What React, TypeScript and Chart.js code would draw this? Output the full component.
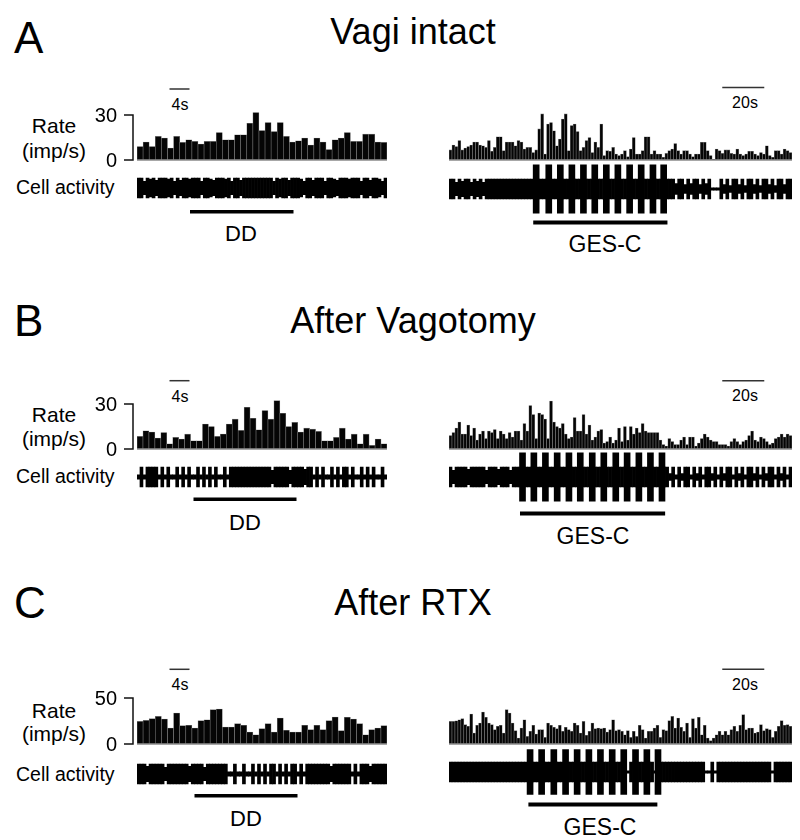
import React, { useEffect, useRef } from "react";
import { Chart, registerables } from "chart.js";

Chart.register(...registerables);

const FONT = "'Liberation Sans', Arial, Helvetica, sans-serif";

// ---------------- text content ----------------
const PANEL_LETTERS = ["A", "B", "C"];
const PANEL_TITLES = ["Vagi intact", "After Vagotomy", "After RTX"];
const RATE_LABEL = "Rate";
const RATE_UNIT = "(imp/s)";
const TRACE_LABEL = "Cell activity";
const LEFT_STIM_LABEL = "DD";
const RIGHT_STIM_LABEL = "GES-C";
const LEFT_SCALE_LABEL = "4s";
const RIGHT_SCALE_LABEL = "20s";
const LEFT_SCALE_S = 4;
const RIGHT_SCALE_S = 20;
const LEFT_SCALE_START_S = 6.5;
const RIGHT_SCALE_START_S = 130.1;

// time spans of the recordings shown (s)
const LEFT_DURATION_S = 50;
const RIGHT_DURATION_S = 163.3;

// y tick labels of the rate histograms
const RATE_TICKS_A = [0, 30];
const RATE_TICKS_B = [0, 30];
const RATE_TICKS_C = [0, 50];

// ---------------- rate histograms (imp/s) ----------------
const A_DD_RATE = [9, 12, 9, 15.7, 14.6, 8, 15.7, 11.7, 13.5, 12.4, 10.6, 12.4, 12.4, 18.3, 13.5, 13.5, 16.8, 16.8, 24.5, 31.6, 19.6, 25, 19, 25, 15.7, 12, 12.8, 14.6, 10, 14.6, 12, 7, 13.5, 14.6, 18.3, 12.4, 12.4, 17.2, 17.2, 12, 11.7];
const B_DD_RATE = [8.4, 12.1, 11.3, 7.3, 11, 3.5, 7.7, 6.6, 9.9, 5.5, 5.5, 16.6, 15, 8.4, 10, 16.6, 19.9, 12.4, 27.8, 20.5, 12.8, 25.6, 19.9, 32.2, 23.8, 15, 17.7, 11.3, 13.9, 13.2, 11.7, 5.5, 5.5, 7.7, 13.9, 6.6, 9.9, 3.5, 9.9, 2.4, 6.6, 3.5];
const C_DD_RATE = [24.6, 25.7, 27.5, 30, 27.2, 17.4, 33.7, 19.9, 20.3, 17.4, 25.4, 26.4, 37.3, 38, 18.5, 18.5, 22.1, 20.3, 13, 10.1, 16.7, 22.1, 13, 28.3, 14.9, 13, 13, 20.3, 15.6, 20.3, 15.6, 25.4, 29.3, 14.5, 29, 27.2, 22.1, 10.1, 15.6, 17.4, 19.9];

const A_GES_RATE = [6.7, 10, 9, 13, 6.7, 8, 9, 10, 12, 12, 10, 9.5, 8.4, 13, 5.8, 8.4, 15.5, 15.5, 6.2, 12, 12, 12, 9.5, 13, 12, 7.3, 8.4, 8.4, 5, 6.7, 20.7, 30.7, 4, 24, 25, 19.5, 9.5, 14, 27.3, 30.7, 6.2, 23, 24, 19, 6.2, 8.4, 13, 15, 5, 12, 8.4, 24, 3, 6.2, 5.8, 8.4, 4,
  3, 4, 6.2, 2.2, 7.3, 15, 4, 4, 6.2, 15.5, 15.5, 4, 6.2, 4, 4, 1.8, 4.4, 6.2, 7.3, 11, 6.2, 4, 6.2, 6.2, 4, 2.2, 4, 4, 11.8, 11.8, 6.2, 3, 0.5, 7.3, 6.2, 4.4, 6.7, 6.7, 4.4, 4, 7.3, 4, 3, 4, 5.8, 5.8, 4, 3, 5, 4, 9.5, 3, 1.8, 6.2, 6.2, 4, 7.3, 6.2, 5];
const B_GES_RATE = [9, 11, 14, 18, 10, 10, 16, 9, 14, 6, 10, 12, 7, 12, 11, 13, 7, 12, 10, 7, 11, 8, 12, 12, 6, 17, 12, 29, 23, 7, 24, 23, 20, 7, 32, 18, 15, 14, 17, 10, 7, 8, 21, 12, 12, 23, 10, 16, 6, 8, 12, 13, 4, 5, 8, 4, 6, 14,
  5, 15, 6, 15, 10, 14, 11, 17, 12, 11, 11, 11, 11, 6, 3, 2, 7, 5, 3, 3, 6, 8, 3, 8, 8, 2, 4, 7, 10, 8, 6, 5, 5, 3, 3, 3, 2, 5, 7, 5, 3, 5, 6, 9, 12, 6, 5, 8, 7, 5, 3, 4, 7, 8, 10, 8, 10, 9];
const C_GES_RATE = [24.6, 24.6, 25.2, 26.4, 27.5, 21, 19.2, 32.6, 12, 20.3, 22.8, 34.8, 29, 22.8, 21, 15.6, 19.2, 20.3, 12, 37.3, 33.7, 22.8, 14.5, 6.5, 17.4, 26.4, 8.3, 13.8, 20.3, 10.9, 15.6, 15.6, 7.2, 22.8, 20.3, 18.1, 16.7, 20.3, 13.8, 18.1, 15.6, 13.8, 22.8, 20.3, 12, 24.6, 9.4, 13.8, 22.8, 16.7, 17.4, 16.7, 17.4, 13, 15.6, 26.4, 14.5,
  15.6, 13.8, 10.1, 14.5, 7.2, 13.8, 8.3, 20.3, 15.6, 6.5, 13.8, 13.8, 17.4, 20.3, 7.2, 15.6, 14.5, 25.4, 30, 17.4, 28.3, 18.1, 13.8, 22.8, 7.2, 27.5, 17.4, 29, 10.1, 20.3, 6.5, 3.6, 6.5, 10.1, 13.8, 10.1, 13.8, 10.1, 15.6, 19.2, 13.8, 20.3, 31.9, 15.6, 17.4, 17.4, 12, 13, 21, 14.5, 16.7, 15.6, 7.2, 13.8, 19.2, 25.4, 20.3, 21, 19.2];

// ---------------- cell activity envelopes (spike amplitude per bin, a.u.) ----------------
const A_DD_TRACE = [9, 9, 6, 9, 8, 9, 7, 9, 9, 9, 8, 9, 6, 9, 7, 9, 9, 8, 9, 9, 9, 6, 9, 9, 8, 7, 9, 9, 9, 8, 9, 6, 9, 9, 7, 9, 9, 9, 9, 9, 9, 9, 9, 9, 9, 6, 9, 8, 9, 9, 7, 9, 9, 9, 8, 6, 9, 9, 7, 9, 9, 9, 6, 9, 9, 8, 7, 9, 9, 9, 8, 9, 9, 9, 6, 9, 9, 7, 9, 9, 8, 6, 9];
const B_DD_TRACE = [2, 9, 2, 9, 9, 9, 9, 2, 9, 2, 9, 2, 2, 9, 2, 9, 2, 9, 2, 2, 9, 2, 9, 2, 9, 2, 9, 2, 2, 9, 2, 9, 9, 9, 9, 9, 9, 9, 9, 9, 9, 9, 9, 9, 9, 6, 9, 9, 9, 9, 9, 6, 9, 9, 9, 9, 7, 9, 9, 2, 9, 2, 9, 2, 2, 9, 2, 9, 2, 9, 9, 2, 9, 2, 2, 9, 2, 9, 2, 9, 2, 2, 9, 2];
const C_DD_TRACE = [9, 9, 9, 7, 9, 9, 9, 9, 9, 6, 9, 9, 9, 9, 9, 9, 9, 7, 9, 9, 9, 9, 6, 9, 9, 9, 9, 9, 9, 9, 2, 2, 9, 2, 2, 9, 2, 2, 9, 2, 9, 2, 9, 2, 9, 9, 2, 9, 2, 9, 2, 9, 9, 2, 9, 2, 9, 9, 9, 9, 9, 9, 9, 9, 7, 9, 9, 9, 9, 9, 9, 2, 9, 2, 9, 9, 9, 7, 9, 9, 9, 9, 9];

const A_GES_TRACE = [9, 9, 6, 9, 7, 9, 9, 6, 9, 7, 9, 6, 9, 9, 9, 9, 9, 9, 9, 9, 9, 9, 9, 9, 9, 9, 9, 9,
  9, 9, 9, 9, 9, 9, 9, 9, 9, 9, 9, 9, 9, 9, 9, 9, 9, 9, 9, 9, 9, 9, 9, 9, 9, 9, 9, 9, 9, 9, 9, 9, 9, 9, 9, 9, 9, 9, 9, 9, 9, 9, 9, 9, 9, 9,
  9, 5, 9, 9, 4, 9, 5, 9, 9, 4, 9, 5, 9, 1, 1, 1, 9, 4, 9, 3, 9, 9, 4, 9, 3, 9, 9, 4, 9, 3, 9, 9, 4, 9, 3, 9, 9, 4, 9, 9];
const B_GES_TRACE = [9, 6, 9, 9, 9, 9, 7, 9, 9, 9, 9, 9, 6, 9, 9, 9, 7, 9, 9, 9, 6, 9, 9,
  9, 9, 9, 9, 9, 9, 9, 9, 9, 9, 9, 9, 9, 9, 9, 9, 9, 9, 9, 9, 9, 9, 9, 9, 9, 9, 9, 9, 9, 9, 9, 9, 9, 9, 9, 9, 9, 9, 9, 9, 9, 9, 9, 9, 9, 9, 9, 9, 9, 9,
  3, 9, 2, 9, 3, 9, 9, 2, 9, 3, 9, 2, 9, 9, 3, 9, 2, 9, 3, 9, 9, 2, 9, 3, 9, 2, 9, 9, 3, 9, 2, 9, 3, 9, 9, 2, 9, 3, 9, 2, 9];
const C_GES_TRACE = [9, 9, 9, 9, 9, 9, 9, 9, 9, 9, 9, 9, 9, 9, 9, 9, 9, 9, 9, 9, 9, 9, 9, 9, 9, 9,
  9, 9, 9, 9, 9, 9, 9, 9, 9, 9, 9, 9, 9, 9, 9, 9, 9, 9, 9, 9, 9, 9, 9, 9, 9, 9, 9, 9, 9, 9, 9, 9, 9, 1, 9, 9, 9, 9, 9, 9, 9, 9, 1, 9, 9,
  9, 9, 9, 9, 9, 9, 9, 9, 9, 9, 9, 9, 9, 9, 1, 1, 9, 1,
  9, 9, 9, 9, 9, 9, 9, 9, 9, 9, 9, 9, 9, 9, 9, 9, 9, 9, 1, 9, 9, 9, 9, 9, 9];

// ---------------- stimulation ----------------
const A_DD_WINDOW = [10.6, 31.3];
const B_DD_WINDOW = [11.3, 31.9];
const C_DD_WINDOW = [11.5, 32.1];
const A_GES_WINDOW = [40.1, 104.0];
const B_GES_WINDOW = [33.8, 102.9];
const C_GES_WINDOW = [37.8, 99.2];
const A_GES_PULSES = [41.5, 47.5, 53.0, 58.5, 64.0, 69.4, 74.9, 80.4, 86.0, 91.5, 97.1, 102.2];
const B_GES_PULSES = [35.0, 40.4, 45.9, 51.5, 57.1, 62.5, 68.2, 73.7, 79.4, 84.8, 90.4, 95.9, 101.4];
const C_GES_PULSES = [38.6, 44.1, 49.9, 55.5, 61.0, 66.6, 72.1, 77.7, 83.2, 88.8, 94.2, 99.5];
const A_PULSE_AMP = 21.8;
const B_PULSE_AMP = 22;
const C_PULSE_AMP = 20.3;

// ---------------- layout (pixels) ----------------
const LAYOUT = [
  { letterY: 38, titleY: 32, base: 160, yMax: 36, leftTraceY: 188, rightTraceY: 189, rateY: 125, unitY: 150, cellY: 188, riseL: 71, riseR: 72.5, scaleLabelYL: 105, scaleLabelYR: 103, ddOff: 22, gesOff: 31.5, ddLabel: [241, 234], gesLabel: [605, 244] },
  { letterY: 321, titleY: 321, base: 449, yMax: 36, leftTraceY: 477, rightTraceY: 477, rateY: 414, unitY: 438, cellY: 477, riseL: 68.3, riseR: 68.3, scaleLabelYL: 397, scaleLabelYR: 396, ddOff: 20.5, gesOff: 34.5, ddLabel: [245, 523], gesLabel: [593, 536] },
  { letterY: 603, titleY: 603, base: 744, yMax: 58.7, leftTraceY: 774, rightTraceY: 772, rateY: 710, unitY: 733, cellY: 775, riseL: 74.7, riseR: 74.7, scaleLabelYL: 685, scaleLabelYR: 685, ddOff: 20, gesOff: 30.5, ddLabel: [246, 819], gesLabel: [600, 827] },
];

const PANELS = [
  { ddRate: A_DD_RATE, gesRate: A_GES_RATE, ddTrace: A_DD_TRACE, gesTrace: A_GES_TRACE, ticks: RATE_TICKS_A, ddWin: A_DD_WINDOW, gesWin: A_GES_WINDOW, pulses: A_GES_PULSES, pulseAmp: A_PULSE_AMP },
  { ddRate: B_DD_RATE, gesRate: B_GES_RATE, ddTrace: B_DD_TRACE, gesTrace: B_GES_TRACE, ticks: RATE_TICKS_B, ddWin: B_DD_WINDOW, gesWin: B_GES_WINDOW, pulses: B_GES_PULSES, pulseAmp: B_PULSE_AMP },
  { ddRate: C_DD_RATE, gesRate: C_GES_RATE, ddTrace: C_DD_TRACE, gesTrace: C_GES_TRACE, ticks: RATE_TICKS_C, ddWin: C_DD_WINDOW, gesWin: C_GES_WINDOW, pulses: C_GES_PULSES, pulseAmp: C_PULSE_AMP },
];

const AXIS_W = 49;

// ---------------- chart builders ----------------
function histConfig(values: number[], dur: number, yMax: number, ticks: number[] | null, scaleStart: number, scaleLen: number, rise: number) {
  const bw = dur / values.length;
  const data = values.map((v, i) => ({ x: (i + 0.5) * bw, y: v }));
  const decor = {
    id: "histDecor",
    afterDatasetsDraw(chart: any) {
      const { ctx, chartArea, scales } = chart;
      const xs = scales.x;
      const ys = scales.y;
      const y0 = ys.getPixelForValue(0);
      ctx.save();
      ctx.strokeStyle = "#8a8a8a";
      ctx.lineWidth = 1.5;
      ctx.beginPath();
      ctx.moveTo(chartArea.left, y0);
      ctx.lineTo(chartArea.right, y0);
      ctx.stroke();
      if (ticks) {
        const top = ys.getPixelForValue(ticks[ticks.length - 1]);
        const bx = chartArea.left - 4;
        ctx.strokeStyle = "#111";
        ctx.lineWidth = 1.5;
        ctx.beginPath();
        ctx.moveTo(bx - 9, top);
        ctx.lineTo(bx, top);
        ctx.lineTo(bx, y0);
        ctx.lineTo(bx - 9, y0);
        ctx.stroke();
        ctx.fillStyle = "#000";
        ctx.font = `20px ${FONT}`;
        ctx.textAlign = "right";
        ctx.textBaseline = "middle";
        ticks.forEach((t) => {
          ctx.fillText(String(t), chartArea.left - 20, ys.getPixelForValue(t) + 1);
        });
      }
      const sy = y0 - rise;
      ctx.strokeStyle = "#333";
      ctx.lineWidth = 1.5;
      ctx.beginPath();
      ctx.moveTo(xs.getPixelForValue(scaleStart), sy);
      ctx.lineTo(xs.getPixelForValue(scaleStart + scaleLen), sy);
      ctx.stroke();
      ctx.restore();
    },
  };
  return {
    type: "bar",
    data: {
      datasets: [
        {
          data,
          backgroundColor: "#050505",
          borderColor: "#7a7a7a",
          borderWidth: 0.6,
          borderSkipped: false,
          barPercentage: 1,
          categoryPercentage: 1,
          grouped: false,
        },
      ],
    },
    options: {
      responsive: false,
      maintainAspectRatio: false,
      animation: false,
      events: [],
      layout: { padding: { top: 26, bottom: 14, left: ticks ? AXIS_W : 0, right: 0 } },
      plugins: { legend: { display: false }, tooltip: { enabled: false } },
      scales: {
        x: { type: "linear", min: 0, max: dur, offset: false, display: false },
        y: { type: "linear", min: 0, max: yMax, display: false },
      },
    },
    plugins: [decor],
  };
}

function traceConfig(amps: number[], dur: number, win: number[], winOff: number, winThick: number, pulses: number[] | null, pulseAmp: number) {
  const bw = dur / amps.length;
  const datasets: any[] = [
    {
      data: amps.map((a, i) => ({ x: (i + 0.5) * bw, y: [-a, a] })),
      backgroundColor: "#000",
      borderWidth: 0,
      barPercentage: 1,
      categoryPercentage: 1,
      grouped: false,
      xAxisID: "x",
    },
  ];
  if (pulses) {
    datasets.push({
      data: pulses.map((t) => ({ x: t, y: [-pulseAmp, pulseAmp] })),
      backgroundColor: "#000",
      borderWidth: 0,
      barThickness: 6,
      grouped: false,
      xAxisID: "x2",
    });
  }
  const decor = {
    id: "stimBar",
    afterDatasetsDraw(chart: any) {
      const { ctx, scales } = chart;
      const xs = scales.x;
      const y = scales.y.getPixelForValue(0) + winOff;
      const x1 = xs.getPixelForValue(win[0]);
      const x2 = xs.getPixelForValue(win[1]);
      ctx.save();
      ctx.fillStyle = "#000";
      ctx.fillRect(x1, y, x2 - x1, winThick);
      ctx.restore();
    },
  };
  return {
    type: "bar",
    data: { datasets },
    options: {
      responsive: false,
      maintainAspectRatio: false,
      animation: false,
      events: [],
      layout: { padding: { top: 0.5, bottom: 16.5, left: 0, right: 0 } },
      plugins: { legend: { display: false }, tooltip: { enabled: false } },
      scales: {
        x: { type: "linear", min: 0, max: dur, offset: false, display: false },
        x2: { type: "linear", min: 0, max: dur, offset: false, display: false },
        y: { type: "linear", min: -24, max: 24, display: false },
      },
    },
    plugins: [decor],
  };
}

function ChartBox({ left, top, width, height, build }: { left: number; top: number; width: number; height: number; build: () => any }) {
  const ref = useRef<HTMLCanvasElement | null>(null);
  useEffect(() => {
    if (!ref.current) return;
    const chart = new Chart(ref.current, build());
    return () => chart.destroy();
  }, []);
  return (
    <canvas
      ref={ref}
      width={width}
      height={height}
      style={{ position: "absolute", left, top, width, height, display: "block" }}
    />
  );
}

function Txt({ x, y, size, children, anchor = "center" }: { x: number; y: number; size: number; children: any; anchor?: string }) {
  return (
    <div
      style={{
        position: "absolute",
        left: x,
        top: y,
        transform: anchor === "center" ? "translate(-50%, -50%)" : "translate(0, -50%)",
        fontFamily: FONT,
        fontSize: size,
        lineHeight: 1,
        whiteSpace: "nowrap",
        color: "#000",
      }}
    >
      {children}
    </div>
  );
}

export default function App() {
  return (
    <div style={{ position: "absolute", left: 0, top: 0, width: 800, height: 840, background: "#fff", overflow: "hidden" }}>
      {PANELS.map((p, k) => {
        const L = LAYOUT[k];
        return (
          <React.Fragment key={k}>
            <Txt x={14} y={L.letterY} size={44} anchor="left">{PANEL_LETTERS[k]}</Txt>
            <Txt x={413} y={L.titleY} size={36}>{PANEL_TITLES[k]}</Txt>
            <Txt x={54} y={L.rateY} size={21}>{RATE_LABEL}</Txt>
            <Txt x={54} y={L.unitY} size={21}>{RATE_UNIT}</Txt>
            <Txt x={16} y={L.cellY} size={19.5} anchor="left">{TRACE_LABEL}</Txt>
            <Txt x={180} y={L.scaleLabelYL} size={16}>{LEFT_SCALE_LABEL}</Txt>
            <Txt x={745} y={L.scaleLabelYR} size={16}>{RIGHT_SCALE_LABEL}</Txt>
            <Txt x={L.ddLabel[0]} y={L.ddLabel[1]} size={22}>{LEFT_STIM_LABEL}</Txt>
            <Txt x={L.gesLabel[0]} y={L.gesLabel[1]} size={23}>{RIGHT_STIM_LABEL}</Txt>

            <ChartBox
              left={137 - AXIS_W}
              top={L.base - 80}
              width={250 + AXIS_W}
              height={94}
              build={() => histConfig(p.ddRate, LEFT_DURATION_S, L.yMax, p.ticks, LEFT_SCALE_START_S, LEFT_SCALE_S, L.riseL)}
            />
            <ChartBox
              left={449}
              top={L.base - 80}
              width={343}
              height={94}
              build={() => histConfig(p.gesRate, RIGHT_DURATION_S, L.yMax, null, RIGHT_SCALE_START_S, RIGHT_SCALE_S, L.riseR)}
            />
            <ChartBox
              left={137}
              top={L.leftTraceY - 27}
              width={250}
              height={70}
              build={() => traceConfig(p.ddTrace, LEFT_DURATION_S, p.ddWin, L.ddOff, 3.5, null, 0)}
            />
            <ChartBox
              left={449}
              top={L.rightTraceY - 27}
              width={343}
              height={70}
              build={() => traceConfig(p.gesTrace, RIGHT_DURATION_S, p.gesWin, L.gesOff, 4, p.pulses, p.pulseAmp)}
            />
          </React.Fragment>
        );
      })}
    </div>
  );
}
